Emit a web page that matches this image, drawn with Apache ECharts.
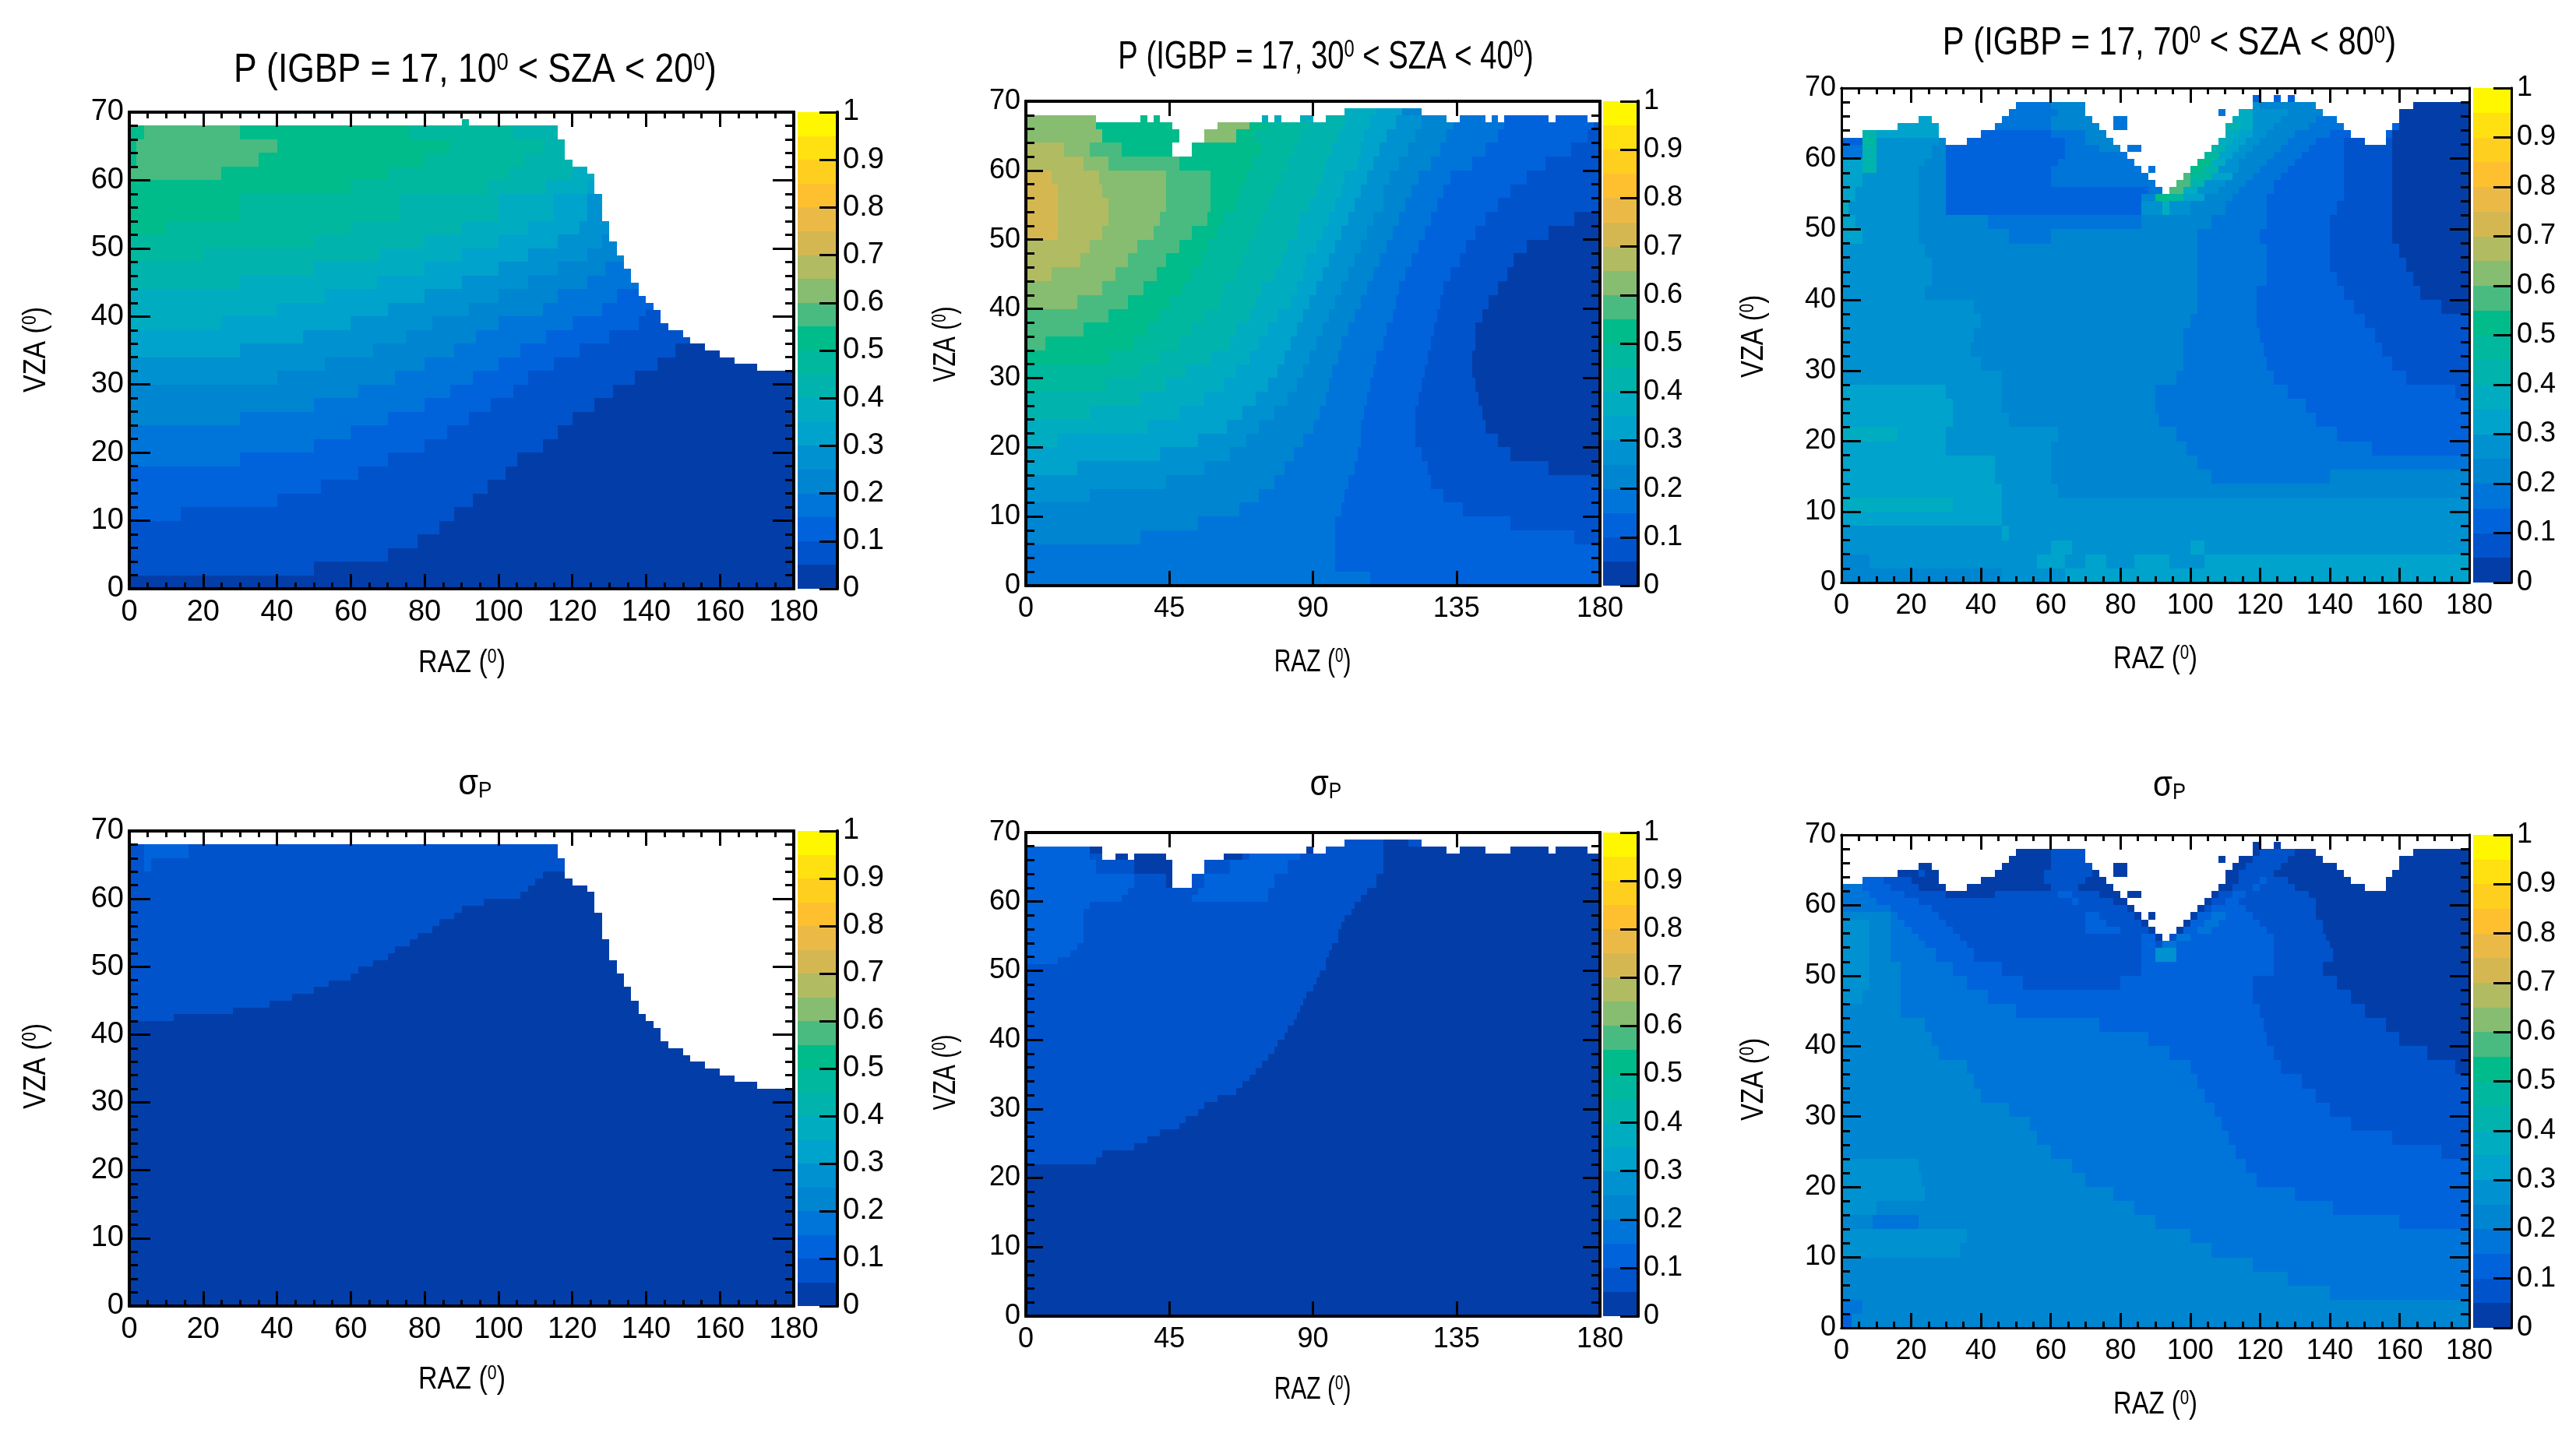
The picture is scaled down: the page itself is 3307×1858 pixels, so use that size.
<!DOCTYPE html>
<html><head><meta charset="utf-8">
<style>html,body{margin:0;padding:0;background:#fff}#c{width:3307px;height:1858px}#o{position:absolute;left:0;top:0;width:3307px;height:1858px;pointer-events:none}</style>
<script src="https://cdn.jsdelivr.net/npm/echarts@6/dist/echarts.min.js"></script>
</head><body><div id="c"></div><div id="o"></div>
<script>
// 20-step colour table, bottom to top of the colour bar
const palette = ['#033ea8','#0153cc','#0063dc','#0075d9','#0085d1','#0091d0','#00a3cb','#00adc0','#00b3ad','#00b89e','#00bb8a','#49bb80','#86bd70','#b1bb62','#d5b752','#ebba46','#ffc030','#ffcf20','#ffe010','#fff700'];
const colorbarEdges = [0,0.05,0.1,0.15,0.2,0.25,0.3,0.35,0.4,0.45,0.5,0.55,0.6,0.65,0.7,0.75,0.8,0.85,0.9,0.95,1];
const titleP = [['10','20'],['30','40'],['70','80']];

// Each row: [VZA top of row, level, RAZ end, level, RAZ end, ...]; level -1 = no data
const panelP10 = [
[2,0,180],[4,1,50,0,180],[6,1,70,0,180],[8,1,78,0,180],[10,1,84,0,180],
[12,2,14,1,88,0,180],[14,2,40,1,93,0,180],[16,2,52,1,97,0,180],[18,2,62,1,102,0,180],
[20,3,30,2,70,1,105,0,180],[22,3,50,2,80,1,112,0,180],[24,3,60,2,86,1,116,0,180],
[26,4,30,3,70,2,92,1,120,0,180],[28,4,50,3,80,2,98,1,126,0,180],[30,4,62,3,87,2,104,1,131,0,180],
[32,5,40,4,72,3,93,2,108,1,137,0,180],
[33,5,53,4,80,3,100,2,115,1,143,0,170],[34,5,53,4,80,3,100,2,115,1,143,0,164],
[35,6,30,5,66,4,88,3,106,2,122,1,148,0,160],[36,6,30,5,66,4,88,3,106,2,122,1,148,0,156],
[37,6,47,5,75,4,94,3,113,2,130,1,152],[38,6,47,5,75,4,94,3,113,2,130,1,150],
[39,7,25,6,60,5,82,4,100,3,120,2,138,1,146],[40,7,25,6,60,5,82,4,100,3,120,2,138,1,144],
[41,7,40,6,70,5,92,4,112,3,128,2,140,1,144],[42,7,40,6,70,5,92,4,112,3,128,2,142],
[43,7,53,6,80,5,100,4,116,3,132,2,140],[44,7,53,6,80,5,100,4,116,3,132,2,138],
[45,8,30,7,67,6,90,5,108,4,124,3,138],[46,8,30,7,67,6,90,5,108,4,124,3,136],
[47,8,50,7,80,6,100,5,116,4,129,3,136],[48,8,50,7,80,6,100,5,116,4,129,3,134],
[49,9,20,8,68,7,90,6,108,5,124,4,134],[50,9,20,8,68,7,90,6,108,5,124,4,132],
[51,9,50,8,80,7,100,6,116,5,128,4,132],[52,9,50,8,80,7,100,6,116,5,128,4,130],
[54,10,10,9,60,8,90,7,108,6,122,5,130],[58,10,30,9,73,8,100,7,115,6,124,5,128],
[60,10,60,9,97,8,113,7,124,6,126],[61,11,25,10,70,9,103,8,120,7,126],[62,11,25,10,70,9,103,8,120,7,124],
[63,10,2,11,35,10,80,9,107,8,120],[64,10,2,11,35,10,80,9,107,8,118],[66,10,2,11,40,10,87,9,112,8,118],
[68,10,4,11,30,10,76,9,104,8,116],[69,-1,90,9,92]
];
const panelP30 = [
[2,3,108,2,180],[4,3,97,2,180],[6,3,97,2,180],[8,4,36,3,97,2,172,1,180],[10,4,54,3,97,2,152,1,180],
[12,4,67,3,99,2,137,1,180],[14,5,20,4,73,3,100,2,131,1,180],[16,5,44,4,78,3,101,2,127,1,180],
[18,6,16,5,56,4,81,3,103,2,126,1,164,0,180],[20,6,42,5,64,4,84,3,104,2,124,1,152,0,180],
[22,7,10,6,54,5,69,4,87,3,105,2,122,1,148,0,180],[24,7,38,6,63,5,73,4,90,3,105,2,122,1,144,0,180],
[26,8,20,7,48,6,68,5,78,4,92,3,106,2,122,1,143,0,180],[28,8,36,7,56,6,72,5,82,4,94,3,107,2,123,1,142,0,180],
[30,9,25,8,44,7,62,6,76,5,85,4,95,3,108,2,124,1,141,0,180],[32,9,36,8,50,7,66,6,79,5,87,4,96,3,109,2,125,1,140,0,180],
[34,10,26,9,42,8,58,7,70,6,81,5,89,4,98,3,110,2,126,1,140,0,180],
[36,11,6,10,34,9,48,8,64,7,73,6,83,5,91,4,99,3,112,2,127,1,141,0,180],
[38,11,18,10,38,9,52,8,66,7,76,6,85,5,93,4,101,3,113,2,128,1,141,0,180],
[40,11,26,10,42,9,56,8,70,7,79,6,87,5,95,4,103,3,115,2,129,1,143,0,180],
[42,12,16,11,32,10,45,9,61,8,72,7,83,6,89,5,97,4,105,3,116,2,130,1,145,0,180],
[44,12,24,11,37,10,49,9,62,8,74,7,85,6,91,5,99,4,107,3,117,2,131,1,148,0,180],
[46,13,8,12,28,11,41,10,52,9,66,8,78,7,87,6,93,5,101,4,109,3,119,2,133,1,151,0,180],
[48,13,17,12,32,11,44,10,55,9,68,8,80,7,88,6,95,5,103,4,111,3,121,2,136,1,153,0,180],
[50,13,20,12,35,11,48,10,57,9,70,8,82,7,91,6,97,5,105,4,113,3,123,2,138,1,157,0,180],
[52,14,10,13,24,12,40,11,52,10,60,9,72,8,85,7,93,6,99,5,107,4,115,3,125,2,141,1,164,0,180],
[54,14,10,13,26,12,42,11,57,10,62,9,74,8,86,7,95,6,101,5,109,4,117,3,127,2,144,1,172,0,180],
[56,14,10,13,26,12,44,11,58,10,66,9,76,8,89,7,97,6,103,5,112,4,119,3,129,2,148,1,180],
[58,14,10,13,24,12,44,11,58,10,67,9,78,8,91,7,99,6,105,5,112,4,121,3,131,2,152,1,180],
[60,14,8,13,23,12,44,11,58,10,69,9,80,8,93,7,100,6,107,5,114,4,123,3,133,2,157,1,180],
[62,13,18,12,26,11,48,10,71,9,82,8,94,7,104,6,109,5,117,4,127,3,140,2,163,1,180],
[64,13,12,12,20,11,30,10,46,-1,52,10,74,9,84,8,96,7,105,6,111,5,120,4,130,3,144,2,171,1,180],
[66,12,24,10,48,-1,56,12,66,10,72,9,86,8,98,7,106,6,113,5,122,4,132,3,148,2,176,1,180],
[67,12,22,10,46,-1,60,12,70,10,76,9,88,8,100,7,108,6,116,5,124,4,134,3,150,2,178,1,180],
[68,12,22,-1,36,10,38,-1,40,10,42,-1,74,7,76,-1,78,7,80,-1,86,7,90,-1,94,8,100,7,108,6,116,5,124,4,132,-1,136,3,144,-1,146,3,148,-1,150,2,164,-1,166,2,176,-1,180],
[69,-1,100,7,110,6,118,4,124]
];
const panelP70 = [
[2,4,46,5,64,6,180],[4,4,8,5,56,6,64,5,70,6,76,5,84,6,94,5,104,6,180],[6,5,60,6,66,5,100,6,104,5,180],
[8,5,46,6,48,5,180],[10,6,46,5,180],[12,7,32,6,46,5,180],[14,6,46,5,62,4,180],
[16,6,44,5,60,4,106,3,140,4,180],[18,6,44,5,60,4,102,3,180],[20,6,30,5,60,4,99,3,152,2,180],
[22,7,16,6,30,5,62,4,96,3,142,2,180],[24,6,32,5,48,4,91,3,136,2,180],[26,6,32,5,46,4,90,3,133,2,180],
[28,6,30,5,46,4,90,3,128,2,176,1,180],[30,5,46,4,96,3,124,2,162,1,180],[32,5,40,4,98,3,122,2,158,1,180],
[34,5,37,4,98,3,121,2,155,1,180],[36,5,38,4,98,3,120,2,153,1,180],[38,5,40,4,100,3,119,2,150,1,180],
[40,5,38,4,102,3,119,2,147,1,172,0,180],[42,5,24,4,102,3,119,2,144,1,166,0,180],
[44,5,26,4,102,3,122,2,142,1,164,0,180],[46,5,26,4,102,3,122,2,140,1,162,0,180],
[48,5,24,4,102,3,122,2,140,1,160,0,180],[50,6,6,5,22,4,48,3,60,4,102,3,120,2,140,1,158,0,180],
[52,6,4,5,22,4,42,3,86,4,106,3,122,2,140,1,158,0,180],
[54,7,2,5,22,4,30,2,86,5,92,7,94,5,100,4,110,3,122,2,142,1,158,0,180],
[55,6,4,5,22,4,30,2,86,4,90,10,94,9,98,6,104,4,112,3,122,2,144,1,158,0,180],
[56,6,4,5,22,4,30,2,88,3,92,-1,94,11,98,7,102,5,108,4,114,3,124,2,144,1,158,0,180],
[57,6,6,5,22,4,30,2,60,3,90,-1,96,11,100,8,104,5,110,4,116,3,124,2,144,1,158,0,180],
[58,6,6,5,22,4,30,2,60,3,88,-1,98,11,100,9,106,6,112,4,118,3,126,2,144,1,158,0,180],
[59,6,6,8,10,5,22,4,30,2,60,3,86,-1,88,3,90,-1,100,10,104,8,108,5,114,4,120,3,128,2,144,1,158,0,180],
[60,6,6,8,10,5,24,4,30,2,62,3,84,-1,102,10,106,7,110,5,114,4,122,3,130,2,144,1,158,0,180],
[61,3,6,8,10,5,26,4,30,2,64,3,82,-1,104,9,108,6,112,5,116,4,124,3,132,2,144,1,158,0,180],
[62,3,6,8,10,5,26,4,30,2,64,3,74,4,80,-1,82,3,86,-1,106,8,110,6,114,5,118,4,126,3,134,2,144,1,158,0,180],
[63,2,6,9,10,5,28,4,30,-1,36,2,64,3,70,4,78,-1,108,7,112,6,116,5,120,4,128,3,136,2,144,1,150,-1,156,1,158,0,180],
[64,-1,6,8,10,6,28,-1,40,2,60,3,70,4,76,-1,110,7,114,6,118,5,122,4,130,3,140,2,146,-1,156,2,158,0,180],
[65,-1,16,6,28,-1,44,3,60,4,74,-1,78,3,82,-1,110,8,114,7,118,5,124,4,134,3,144,-1,158,2,160,0,180],
[66,-1,22,6,26,-1,46,3,60,4,72,-1,78,3,82,-1,112,7,118,5,126,4,136,3,142,-1,160,0,180],
[67,-1,48,3,62,4,70,-1,108,3,110,-1,114,7,118,5,128,4,138,-1,160,0,180],
[68,-1,50,3,60,4,70,-1,118,5,120,4,136,-1,164,0,180],
[69,-1,118,2,120,-1,124,2,126,-1,128,2,130]
];
const panelS10 = [
[32,0,180],[33,0,170],[34,0,164],[35,0,160],[36,0,156],[37,0,152],[38,0,150],[39,0,146],[41,0,144],[42,0,142],
[43,1,12,0,140],[44,1,28,0,138],[45,1,38,0,138],[46,1,44,0,136],[47,1,50,0,136],[48,1,54,0,134],[49,1,60,0,134],
[50,1,62,0,132],[51,1,66,0,132],[52,1,70,0,130],[53,1,72,0,130],[54,1,76,0,130],[55,1,78,0,128],[56,1,82,0,128],
[57,1,84,0,128],[58,1,88,0,128],[59,1,90,0,126],[60,1,96,0,126],[61,1,106,0,126],[62,1,108,0,124],[63,1,110,0,120],
[64,1,112,0,118],[66,1,4,2,6,1,118],[68,1,4,2,16,1,116]
];
const panelS30 = [
[22,0,180],[23,1,22,0,180],[24,1,24,0,180],[25,1,34,0,180],[26,1,38,0,180],[27,1,42,0,180],[28,1,48,0,180],[29,1,50,0,180],
[30,1,54,0,180],[31,1,56,0,180],[32,1,60,0,180],[33,1,66,0,180],[34,1,68,0,180],[35,1,70,0,180],[36,1,72,0,180],[37,1,74,0,180],
[38,1,76,0,180],[39,1,78,0,180],[40,1,79,0,180],[41,1,81,0,180],[42,1,82,0,180],[43,1,84,0,180],[44,1,85,0,180],[45,1,86,0,180],
[46,1,87,0,180],[47,1,88,0,180],[48,1,90,0,180],[49,1,91,0,180],[50,1,92,0,180],[51,1,94,0,180],[52,2,10,1,94,0,180],[53,2,14,1,95,0,180],
[54,2,16,1,96,0,180],[56,2,18,1,98,0,180],[57,2,18,1,99,0,180],[58,2,18,1,100,0,180],[59,2,18,1,102,0,180],[60,2,20,1,103,0,180],
[61,2,30,1,52,2,76,1,105,0,180],[62,2,32,1,54,2,76,1,107,0,180],
[64,2,34,1,44,0,46,-1,52,1,56,2,78,1,110,0,180],
[66,2,22,1,34,0,46,-1,56,1,64,2,82,1,112,0,180],
[67,2,20,1,24,-1,28,0,32,-1,34,0,44,-1,62,0,68,1,70,2,86,1,112,0,180],
[68,2,20,0,24,-1,88,0,90,-1,94,1,112,0,132,-1,136,0,144,-1,152,0,164,-1,166,0,176,-1,180],
[69,-1,100,1,112,0,120,1,124]
];
const panelS70 = [
[2,2,3,4,180],[4,3,6,4,180],[6,4,140,3,180],[8,4,128,3,180],[10,4,118,3,180],[12,5,34,4,106,3,180],
[14,5,36,4,100,3,180],[16,4,9,3,22,4,90,3,160,2,180],[18,5,10,4,84,3,141,2,180],[20,5,24,4,78,3,130,2,180],
[22,5,23,4,70,3,119,2,180],[24,5,22,4,66,3,116,2,180],[26,4,60,3,113,2,172,1,180],[28,4,56,3,111,2,158,1,180],
[30,4,54,3,109,2,146,1,180],[32,4,48,3,107,2,140,1,180],[34,4,40,3,104,2,136,1,180],[36,4,38,3,102,2,132,1,180],
[38,4,36,3,100,2,126,1,176,0,180],[40,4,28,3,94,2,124,1,168,0,180],[42,4,26,3,88,2,122,1,160,0,180],
[44,4,24,3,74,2,121,1,156,0,180],[46,4,17,3,50,2,120,1,150,0,180],[48,5,6,4,17,3,42,2,118,1,146,0,180],
[50,5,8,4,17,3,36,2,52,1,80,2,118,1,142,0,180],[52,5,8,4,17,3,32,2,46,1,86,2,124,1,138,0,180],
[54,5,8,4,14,3,27,2,38,1,86,2,90,5,96,2,124,1,141,0,180],
[55,5,8,4,14,3,24,2,36,1,86,2,90,1,92,3,96,2,124,1,140,0,180],
[56,5,8,4,14,3,22,2,34,1,86,2,90,0,92,-1,94,1,96,3,100,2,124,1,139,0,180],
[57,5,8,4,14,3,20,2,32,1,70,2,80,1,88,0,90,-1,96,0,98,2,102,3,106,2,122,1,138,0,180],
[58,5,8,4,14,3,18,2,30,1,70,2,76,1,86,0,88,-1,98,0,100,2,104,3,108,2,120,1,138,0,180],
[59,4,14,3,16,2,28,1,70,2,74,1,84,0,86,-1,88,0,90,-1,100,0,102,2,106,3,110,2,118,1,136,0,180],
[60,3,14,2,26,1,82,0,84,-1,102,0,104,1,106,2,116,1,136,0,180],
[61,3,10,2,22,1,66,2,68,1,78,0,82,-1,104,0,106,1,110,2,114,1,136,0,180],
[62,3,8,2,18,1,30,0,44,1,62,2,66,1,74,0,80,-1,82,0,86,-1,106,0,108,1,112,2,116,1,134,0,180],
[63,3,6,2,14,1,22,0,30,-1,36,0,60,1,68,0,78,-1,108,0,112,1,118,2,120,1,130,0,150,-1,156,0,180],
[64,-1,6,2,12,1,20,0,28,-1,40,0,58,1,70,0,76,-1,110,0,114,1,120,2,122,1,128,0,146,-1,156,0,180],
[65,-1,16,0,22,1,24,0,28,-1,44,0,58,1,72,0,74,-1,78,0,82,-1,110,0,114,1,124,0,144,-1,158,0,180],
[66,-1,22,0,26,-1,46,0,60,1,72,-1,78,0,82,-1,112,0,116,1,126,0,142,-1,160,0,180],
[67,-1,48,0,60,1,70,-1,108,0,110,-1,114,0,118,1,128,0,138,-1,160,0,180],
[68,-1,50,0,60,1,70,-1,118,0,120,1,130,0,136,-1,164,0,180],
[69,-1,118,0,120,-1,124,0,126]
];

const FONT = '"Liberation Sans",sans-serif';
// layout: plot frame, colour bar, title and axis-name centres (pixels)
const panels = [
 {rows:panelP10,x:166,w:853,y:144,h:612,cb:1024,cw:51,xi:20,xm:4,tc:[610,91],tfs:52,tsx:0.855,fs:38,rz:[593,852],vz:[47,449],nsx:0.85,kind:'P',sza:titleP[0],lw:4,yl:27},
 {rows:panelP30,x:1317,w:737,y:130,h:622,cb:2058,cw:45,xi:45,xm:0,tc:[1702,74],tfs:50,tsx:0.765,fs:36,rz:[1685,851],vz:[1215,442],nsx:0.75,kind:'P',sza:titleP[1],lw:4,yl:22},
 {rows:panelP70,x:2364,w:806,y:113,h:635,cb:3175,cw:49,xi:20,xm:4,tc:[2785,56],tfs:50,tsx:0.835,fs:36,rz:[2767,847],vz:[2252,432],nsx:0.82,kind:'P',sza:titleP[2],lw:3,yl:25},
 {rows:panelS10,x:166,w:853,y:1067,h:610,cb:1024,cw:51,xi:20,xm:4,tc:[610,1007],tfs:46,tsx:0.9,fs:38,rz:[593,1772],vz:[47,1369],nsx:0.85,kind:'S',lw:4,yl:27},
 {rows:panelS30,x:1317,w:737,y:1069,h:621,cb:2058,cw:45,xi:45,xm:0,tc:[1702,1008],tfs:46,tsx:0.85,fs:36,rz:[1685,1785],vz:[1215,1377],nsx:0.75,kind:'S',lw:4,yl:22},
 {rows:panelS70,x:2364,w:806,y:1072,h:633,cb:3175,cw:49,xi:20,xm:4,tc:[2785,1009],tfs:46,tsx:0.88,fs:36,rz:[2767,1804],vz:[2252,1386],nsx:0.82,kind:'S',lw:3,yl:25}
];

function rowsToRects(rows){
  const out=[]; let low=0;
  rows.forEach(r=>{
    const top=r[0]; let start=0;
    for(let i=1;i<r.length;i+=2){
      if(r[i]>=0) out.push([start,r[i+1],low,top,r[i]]);
      start=r[i+1];
    }
    low=top;
  });
  return out;
}
function renderRect(params,api){
  const a=api.coord([api.value(0),api.value(2)]), b=api.coord([api.value(1),api.value(3)]);
  const x0=Math.round(a[0]),x1=Math.round(b[0]),y0=Math.round(b[1]),y1=Math.round(a[1]);
  return {type:'rect',shape:{x:x0,y:y0,width:x1-x0,height:y1-y0},style:{fill:palette[api.value(4)]}};
}
const richLabel=(fs)=>({
  t:{fontFamily:FONT,fontSize:fs,fill:'#000'},
  s:{fontFamily:FONT,fontSize:Math.round(fs*0.62),fill:'#000',verticalAlign:'top'},
  b:{fontFamily:FONT,fontSize:Math.round(fs*0.62),fill:'#000',verticalAlign:'bottom'}
});
const textEl=(text,pos,fs,sx,rot)=>({type:'text',x:pos[0],y:pos[1],scaleX:sx,rotation:rot||0,z:20,
  style:{text:text,align:'center',verticalAlign:'middle',rich:richLabel(fs)}});
const option={animation:false,backgroundColor:'#fff',graphic:{elements:[]},grid:[],xAxis:[],yAxis:[],series:[]};
// second, transparent layer that carries only the frames and their inward ticks
const overlay={animation:false,backgroundColor:'transparent',grid:[],xAxis:[],yAxis:[],series:[]};
panels.forEach((p,i)=>{
  const lineS={show:true,onZero:false,lineStyle:{color:'#000',width:p.lw}};
  const g=option.grid.length;
  const gridA={left:p.x,top:p.y,width:p.w,height:p.h,show:false};
  const gridB={left:p.cb,top:p.y,width:p.cw,height:p.h,show:false};
  option.grid.push(gridA,gridB);
  overlay.grid.push(Object.assign({},gridA),Object.assign({},gridB));
  const titleText=p.kind==='P'?`{t|P (IGBP = 17, ${p.sza[0]}}{s|0}{t| < SZA < ${p.sza[1]}}{s|0}{t|)}`:'{t|σ}{b|P}';
  option.graphic.elements.push(textEl(titleText,p.tc,p.tfs,p.tsx));
  option.graphic.elements.push(textEl('{t|RAZ (}{s|0}{t|)}',p.rz,40,p.nsx));
  option.graphic.elements.push(textEl('{t|VZA (}{s|0}{t|)}',p.vz,40,p.nsx,Math.PI/2));
  const lab=(show,m)=>({show:show,margin:m,fontFamily:FONT,fontSize:p.fs,color:'#000',showMinLabel:true,showMaxLabel:true,hideOverlap:false});
  const xBase=(pos,show)=>({
    type:'value',gridIndex:g,position:pos,min:0,max:180,interval:p.xi,z:10,
    axisLine:lineS,splitLine:{show:false},axisTick:{show:false},minorTick:{show:false},
    axisLabel:lab(show,12)
  });
  const yBase=(pos,show)=>({
    type:'value',gridIndex:g,position:pos,min:0,max:70,interval:10,z:10,
    axisLine:lineS,splitLine:{show:false},axisTick:{show:false},minorTick:{show:false},
    axisLabel:lab(show,7)
  });
  const xTick=(pos)=>Object.assign(xBase(pos,false),{
    axisTick:{show:true,inside:true,length:19,lineStyle:{color:'#000',width:3}},
    minorTick:{show:p.xm>0,splitNumber:p.xm||1,length:8,lineStyle:{color:'#000',width:3}},
    axisLabel:{show:false}});
  const yTick=(pos)=>Object.assign(yBase(pos,false),{
    axisTick:{show:true,inside:true,length:p.yl,lineStyle:{color:'#000',width:3}},
    minorTick:{show:true,splitNumber:5,length:11,lineStyle:{color:'#000',width:3}},
    axisLabel:{show:false}});
  const xi=option.xAxis.length, yi=option.yAxis.length;
  option.xAxis.push(xBase('bottom',true));
  option.xAxis.push(xBase('top',false));
  option.yAxis.push(yBase('left',true));
  option.yAxis.push(yBase('right',false));
  overlay.xAxis.push(xTick('bottom'),xTick('top'));
  overlay.yAxis.push(yTick('left'),yTick('right'));
  option.series.push({type:'custom',xAxisIndex:xi,yAxisIndex:yi,coordinateSystem:'cartesian2d',clip:true,silent:true,progressive:0,
    renderItem:renderRect,encode:{x:[0,1],y:[2,3]},data:rowsToRects(p.rows),z:2});
  // colour bar
  const cxi=option.xAxis.length, cyi=option.yAxis.length;
  option.xAxis.push({type:'value',gridIndex:g+1,min:0,max:1,show:false});
  option.yAxis.push({type:'value',gridIndex:g+1,position:'right',min:0,max:1,interval:0.1,z:10,
    axisLine:lineS,splitLine:{show:false},axisTick:{show:false},
    axisLabel:lab(true,7)});
  overlay.xAxis.push({type:'value',gridIndex:g+1,min:0,max:1,show:false});
  overlay.yAxis.push({type:'value',gridIndex:g+1,position:'right',min:0,max:1,interval:0.1,z:10,
    axisLine:lineS,splitLine:{show:false},
    axisTick:{show:true,inside:true,length:23,lineStyle:{color:'#000',width:3}},
    axisLabel:{show:false}});
  option.series.push({type:'custom',xAxisIndex:cxi,yAxisIndex:cyi,coordinateSystem:'cartesian2d',clip:true,silent:true,progressive:0,
    renderItem:renderRect,encode:{x:[0,1],y:[2,3]},z:2,
    data:palette.map((c,k)=>[0,1,colorbarEdges[k],colorbarEdges[k+1],k])});
});
const chart=echarts.init(document.getElementById('c'),null,{renderer:'canvas',width:3307,height:1858});
chart.setOption(option);
const tickLayer=echarts.init(document.getElementById('o'),null,{renderer:'canvas',width:3307,height:1858});
tickLayer.setOption(overlay);
</script></body></html>
